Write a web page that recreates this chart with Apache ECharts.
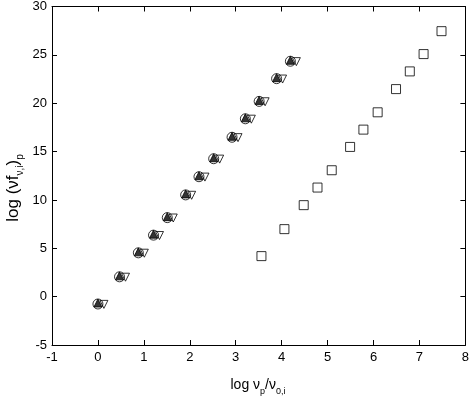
<!DOCTYPE html>
<html>
<head>
<meta charset="utf-8">
<script src="https://cdn.jsdelivr.net/npm/echarts@6/dist/echarts.min.js"></script>
<style>html,body{margin:0;padding:0;background:#fff;}#c{width:472px;height:399px;}</style>
</head>
<body>
<div id="c"></div>
<script>
// Open circles
var circX = [0.00, 0.47, 0.88, 1.21, 1.51, 1.91, 2.20, 2.52, 2.92, 3.21, 3.51, 3.89, 4.19];
var circY = [-0.76, 2.05, 4.53, 6.36, 8.17, 10.52, 12.40, 14.26, 16.48, 18.39, 20.19, 22.54, 24.34];
// Filled up-triangles
var triX = [0.00, 0.47, 0.88, 1.21, 1.51, 1.91, 2.20, 2.52, 2.92, 3.21, 3.51, 3.89, 4.19];
var triY = [-0.66, 2.15, 4.63, 6.46, 8.27, 10.62, 12.50, 14.36, 16.58, 18.49, 20.29, 22.64, 24.44];
// Open down-triangles
var dtriX = [0.13, 0.60, 1.01, 1.34, 1.64, 2.04, 2.33, 2.65, 3.05, 3.34, 3.64, 4.02, 4.32];
var dtriY = [-0.80, 2.01, 4.49, 6.32, 8.13, 10.48, 12.36, 14.22, 16.44, 18.35, 20.15, 22.50, 24.30];
// Open squares
var sqX = [3.56, 4.06, 4.48, 4.78, 5.09, 5.49, 5.78, 6.09, 6.49, 6.79, 7.09, 7.48];
var sqY = [4.19, 6.98, 9.46, 11.28, 13.07, 15.48, 17.27, 19.06, 21.46, 23.29, 25.08, 27.45];

var xTicks = { min: -1, max: 8, interval: 1 };
var yTicks = { min: -5, max: 30, interval: 5 };

function zip(a, b) { return a.map(function (v, i) { return [v, b[i]]; }); }

var FONT = 'Liberation Sans, Arial, sans-serif';
var chart = echarts.init(document.getElementById('c'), null, { renderer: 'canvas' });

var axisLine = { show: true, onZero: false, lineStyle: { color: '#000', width: 1 } };
var tick = { show: true, inside: true, length: 5, lineStyle: { color: '#000', width: 1 } };

var richX = {
  n: { fontSize: 14, fontFamily: FONT, color: '#000', lineHeight: 22 },
  s: { fontSize: 9, fontFamily: FONT, color: '#000', lineHeight: 9, verticalAlign: 'bottom' }
};
var richY = {
  n: { fontSize: 17, fontFamily: FONT, color: '#000', lineHeight: 24 },
  s: { fontSize: 10, fontFamily: FONT, color: '#000', lineHeight: 10, verticalAlign: 'bottom' }
};

chart.setOption({
  animation: false,
  backgroundColor: '#fff',
  grid: { left: 52, right: 4, top: 6, bottom: 54, containLabel: false },
  xAxis: [
    { type: 'value', min: xTicks.min, max: xTicks.max, interval: xTicks.interval, position: 'bottom',
      axisLine: axisLine, axisTick: tick, splitLine: { show: false },
      axisLabel: { color: '#000', fontSize: 13, fontFamily: FONT, margin: 6 } },
    { type: 'value', min: xTicks.min, max: xTicks.max, interval: xTicks.interval, position: 'top',
      axisLine: axisLine, axisTick: tick, splitLine: { show: false }, axisLabel: { show: false } }
  ],
  yAxis: [
    { type: 'value', min: yTicks.min, max: yTicks.max, interval: yTicks.interval, position: 'left',
      axisLine: axisLine, axisTick: tick, splitLine: { show: false },
      axisLabel: { color: '#000', fontSize: 13, fontFamily: FONT, margin: 5 } },
    { type: 'value', min: yTicks.min, max: yTicks.max, interval: yTicks.interval, position: 'right',
      axisLine: axisLine, axisTick: tick, splitLine: { show: false }, axisLabel: { show: false } }
  ],
  graphic: [
    { type: 'text', x: 258, y: 385, style: { text: '{n|log ν}{s|p}{n|/ν}{s|0,i}', rich: richX, align: 'center', verticalAlign: 'middle' } },
    { type: 'text', x: 13, y: 188, rotation: Math.PI / 2, style: { text: '{n|log (νf}{s|ν,i}{n|)}{s|p}', rich: richY, align: 'center', verticalAlign: 'middle' } }
  ],
  series: [
    { type: 'scatter', data: zip(circX, circY), symbol: 'circle', symbolSize: 10,
      itemStyle: { color: 'rgba(0,0,0,0)', borderColor: '#000', borderWidth: 1 } },
    { type: 'scatter', data: zip(triX, triY), symbol: 'triangle', symbolSize: 8,
      itemStyle: { color: '#000', borderColor: '#000', borderWidth: 1 } },
    { type: 'scatter', data: zip(dtriX, dtriY), symbol: 'triangle', symbolRotate: 180, symbolSize: 8,
      itemStyle: { color: 'rgba(0,0,0,0)', borderColor: '#000', borderWidth: 1 } },
    { type: 'scatter', data: zip(sqX, sqY), symbol: 'rect', symbolSize: 9,
      itemStyle: { color: 'rgba(0,0,0,0)', borderColor: '#000', borderWidth: 1 } }
  ]
});
</script>
</body>
</html>
